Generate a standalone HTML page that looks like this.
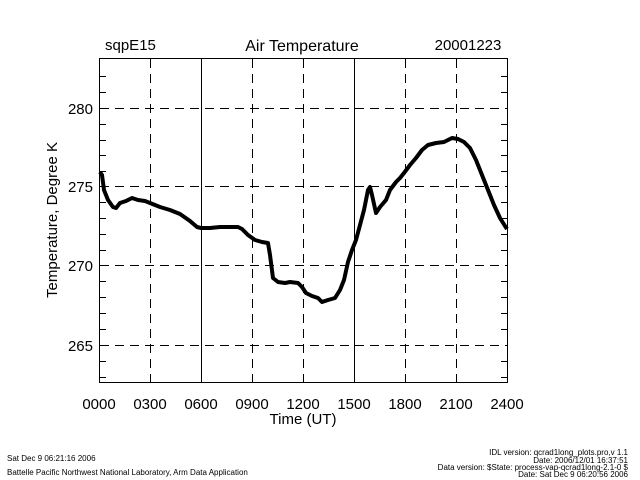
<!DOCTYPE html>
<html><head><meta charset="utf-8"><style>
body{margin:0;background:#fff;}
svg{display:block;font-family:"Liberation Sans",sans-serif;}
</style></head><body>
<svg width="640" height="480" viewBox="0 0 640 480">
<rect width="640" height="480" fill="#fff"/>
<g stroke="#000" stroke-width="1" fill="none">
<rect x="99.5" y="58.5" width="408" height="324"/>
<g stroke-dasharray="9,6">
<line x1="150.5" y1="59" x2="150.5" y2="382"/>
<line x1="252.5" y1="59" x2="252.5" y2="382"/>
<line x1="303.5" y1="59" x2="303.5" y2="382"/>
<line x1="405.5" y1="59" x2="405.5" y2="382"/>
<line x1="456.5" y1="59" x2="456.5" y2="382"/>
<line x1="100" y1="108.5" x2="507" y2="108.5"/>
<line x1="100" y1="186.5" x2="507" y2="186.5"/>
<line x1="100" y1="265.5" x2="507" y2="265.5"/>
<line x1="100" y1="345.5" x2="507" y2="345.5"/>
</g>
<line x1="201.5" y1="59" x2="201.5" y2="382"/>
<line x1="354.5" y1="59" x2="354.5" y2="382"/>
<path d="M100 76.5h6M100 92.5h6M100 124.5h6M100 140.5h6M100 155.5h6M100 171.5h6M100 202.5h6M100 218.5h6M100 234.5h6M100 250.5h6M100 281.5h6M100 297.5h6M100 313.5h6M100 329.5h6M100 361.5h6M100 377.5h6
M507 76.5h-6M507 92.5h-6M507 124.5h-6M507 140.5h-6M507 155.5h-6M507 171.5h-6M507 202.5h-6M507 218.5h-6M507 234.5h-6M507 250.5h-6M507 281.5h-6M507 297.5h-6M507 313.5h-6M507 329.5h-6M507 361.5h-6M507 377.5h-6"/>
</g>
<polyline fill="none" stroke="#000" stroke-width="4" stroke-linejoin="round" points="100,172 102,175 104,190 108,200 113,207 116,208 120,203 126,201 132,198 138,200 145,201 150,203 160,207 170,210 180,214 190,221 197,227 201,228 210,228 220,227 230,227 238,227 242,229 248,235 255,240 262,242 268,243 270,255 273,278 278,282 285,283 290,282 298,283 302,287 306,293 312,296 318,298 322,302 328,300 335,298 340,290 344,280 348,262 352,250 356,240 360,225 364,210 368,190 370,187 372,195 376,213 380,207 386,200 390,190 396,182 400,178 404,173 410,165 416,158 422,150 428,145 436,143 444,142 452,138 458,139 464,142 470,148 476,160 482,175 488,190 494,205 500,218 505,226 507,229"/>
<g font-size="15" fill="#000">
<text x="105" y="50">sqpE15</text>
<text x="302" y="51" text-anchor="middle" font-size="16">Air Temperature</text>
<text x="468" y="50" text-anchor="middle">20001223</text>
<g text-anchor="end">
<text x="93" y="114">280</text><text x="93" y="192">275</text><text x="93" y="271">270</text><text x="93" y="351">265</text>
</g>
<g text-anchor="middle">
<text x="99" y="409">0000</text><text x="150" y="409">0300</text><text x="201" y="409">0600</text><text x="252" y="409">0900</text><text x="303" y="409">1200</text><text x="354" y="409">1500</text><text x="405" y="409">1800</text><text x="456" y="409">2100</text><text x="507" y="409">2400</text>
<text x="303" y="424">Time (UT)</text>
</g>
<text transform="translate(57,220) rotate(-90)" text-anchor="middle">Temperature, Degree K</text>
</g>
<g font-size="8" fill="#000">
<text x="7" y="461">Sat Dec  9 06:21:16 2006</text>
<text x="7" y="475">Battelle Pacific Northwest National Laboratory, Arm Data Application</text>
<g text-anchor="end">
<text x="628" y="455">IDL version: qcrad1long_plots.pro,v 1.1</text>
<text x="628" y="463">Date: 2006/12/01 16:37:51</text>
<text x="628" y="470">Data version: $State: process-vap-qcrad1long-2.1-0 $</text>
<text x="628" y="477">Date: Sat Dec  9 06:20:56 2006</text>
</g></g>
</svg>
</body></html>
